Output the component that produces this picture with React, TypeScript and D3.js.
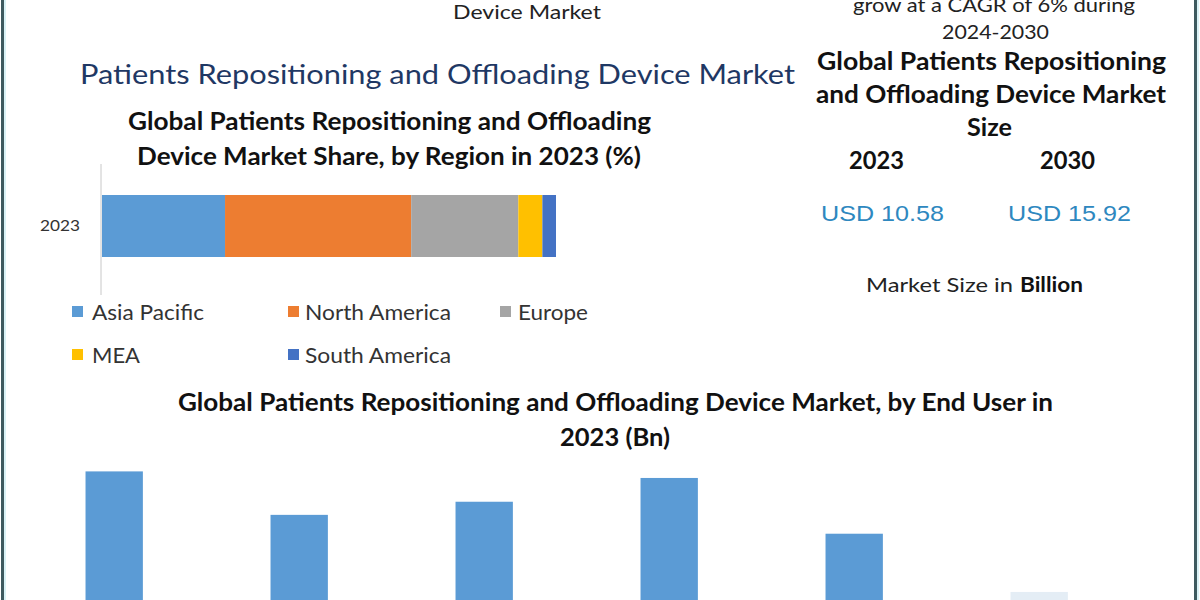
import React from "react";
import * as d3 from "d3";

// ---- Data ----
const shareYear = "2023";
const regions = ["Asia Pacific", "North America", "Europe", "MEA", "South America"];
const regionShare = [27.1, 41.0, 23.6, 5.3, 3.0];
const regionColors = ["#5b9bd5", "#ed7d31", "#a5a5a5", "#ffc000", "#4472c4"];

const endUsers = ["Hospitals", "Nursing Homes", "Home Care Settings", "Ambulatory Surgical Centers", "Rehabilitation Centers", "Others"];
const endUserValues = [2.30, 1.77, 1.93, 2.22, 1.54, 0.83];

const sizeYears = ["2023", "2030"];
const sizeValues = ["USD 10.58", "USD 15.92"];

const W = 1200;
const H = 600;

const calibri = "Lato, 'Open Sans', 'DejaVu Sans', sans-serif";

export default function App() {
  // stacked share bar
  const xShare = d3.scaleLinear().domain([0, 100]).range([102, 556]);
  const cum = d3.cumsum(regionShare);
  const segs = regionShare.map((v, i) => ({ name: regions[i], start: cum[i] - v, end: cum[i], color: regionColors[i] }));
  const yBand = d3.scaleBand().domain([shareYear]).range([164, 288]).paddingInner(0.5).paddingOuter(0.25);

  // end-user bars
  const xEnd = d3.scaleBand().domain(endUsers).range([21.7, 1131.7]).paddingInner(0.69).paddingOuter(0.345);
  const yEnd = d3.scaleLinear().domain([0, 3]).range([660, 414]);

  const legendPos = [
    { sx: 72, tx: 92, ty: 320, w: 112 },
    { sx: 288, tx: 305, ty: 320, w: 146 },
    { sx: 500, tx: 518, ty: 320, w: 70 },
    { sx: 72, tx: 92, ty: 363, w: 48 },
    { sx: 288, tx: 305, ty: 363, w: 146 },
  ];

  const T = (props: any) => <text fontFamily={calibri} lengthAdjust="spacingAndGlyphs" {...props} />;

  return (
    <svg width={W} height={H} style={{ position: "fixed", left: 0, top: 0, background: "#fff" }}>
      <rect x={0} y={0} width={W} height={H} fill="#ffffff" />
      {/* borders */}
      <rect x={1} y={0} width={3} height={H} fill="#3e5a5f" />
      <rect x={4} y={0} width={2} height={H} fill="#d9f2f6" />
      <rect x={1194} y={0} width={3} height={H} fill="#3e5a5f" />
      <rect x={1197} y={0} width={2} height={H} fill="#d9f2f6" />

      {/* top cut-off texts */}
      <T x={453} y={19} fontSize={20} fill="#222" textLength={148}>Device Market</T>
      <T x={853} y={12} fontSize={20} fill="#222" textLength={282}>grow at a CAGR of 6% during</T>
      <T x={942} y={39} fontSize={20} fill="#222" textLength={107}>2024-2030</T>

      {/* main title */}
      <T x={80} y={84} fontSize={27} fill="#1f3864" textLength={715}>Patients Repositioning and Offloading Device Market</T>

      {/* right panel */}
      <T x={817} y={70} fontSize={24} fontWeight="bold" fill="#111" textLength={349}>Global Patients Repositioning</T>
      <T x={816} y={103} fontSize={24} fontWeight="bold" fill="#111" textLength={350}>and Offloading Device Market</T>
      <T x={967} y={136} fontSize={24} fontWeight="bold" fill="#111" textLength={45}>Size</T>
      {sizeYears.map((yr, i) => (
        <T key={yr} x={[849, 1040][i]} y={169} fontSize={24} fontWeight="bold" fill="#111" textLength={55}>{yr}</T>
      ))}
      {sizeValues.map((v, i) => (
        <text key={v} x={[821, 1008][i]} y={221} fontSize={22} fontFamily="'Liberation Sans', Arial, sans-serif" fill="#2e88bf" textLength={123} lengthAdjust="spacingAndGlyphs">{v}</text>
      ))}
      <T x={866} y={292} fontSize={20} fill="#222" textLength={147}>Market Size in</T>
      <T x={1020} y={292} fontSize={20} fontWeight="bold" fill="#111" textLength={63}>Billion</T>

      {/* share chart title */}
      <T x={128} y={130} fontSize={24} fontWeight="bold" fill="#111" textLength={523}>Global Patients Repositioning and Offloading</T>
      <T x={137} y={165} fontSize={24} fontWeight="bold" fill="#111" textLength={504}>Device Market Share, by Region in 2023 (%)</T>

      {/* share axis */}
      <line x1={101} x2={101} y1={164} y2={295} stroke="#c8c8c8" strokeWidth={1} />
      <T x={40} y={231} fontSize={16} fill="#333" textLength={40}>{shareYear}</T>
      {segs.map((s) => (
        <rect key={s.name} x={xShare(s.start)} y={yBand(shareYear)} width={xShare(s.end) - xShare(s.start)} height={yBand.bandwidth()} fill={s.color} />
      ))}

      {/* legend */}
      {regions.map((r, i) => (
        <g key={r}>
          <rect x={legendPos[i].sx} y={legendPos[i].ty - 14} width={11} height={11} fill={regionColors[i]} />
          <T x={legendPos[i].tx} y={legendPos[i].ty} fontSize={21} fill="#333" textLength={legendPos[i].w}>{r}</T>
        </g>
      ))}

      {/* end-user chart */}
      <T x={178} y={411} fontSize={24} fontWeight="bold" fill="#111" textLength={875}>Global Patients Repositioning and Offloading Device Market, by End User in</T>
      <T x={560} y={446} fontSize={24} fontWeight="bold" fill="#111" textLength={110}>2023 (Bn)</T>
      {endUsers.map((u, i) => (
        <rect key={u} x={xEnd(u)} y={yEnd(endUserValues[i])} width={xEnd.bandwidth()} height={yEnd(0) - yEnd(endUserValues[i])} fill={i === endUsers.length - 1 ? "#e4edf5" : "#5b9bd5"} />
      ))}
    </svg>
  );
}
